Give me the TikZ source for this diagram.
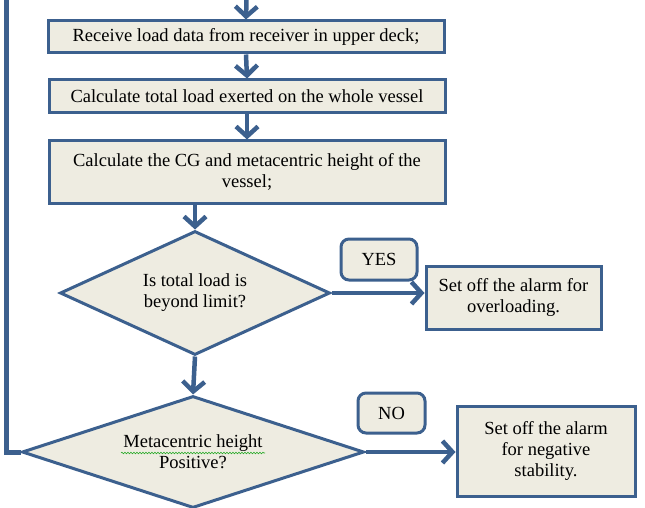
\documentclass[tikz,border=0pt]{standalone}
\usepackage{fontspec}
\setmainfont{Liberation Serif}
\usepackage{xcolor}
\usetikzlibrary{arrows.meta,calc,shapes.geometric,decorations.pathmorphing}
\definecolor{flowblue}{RGB}{60,96,142}
\definecolor{flowfill}{RGB}{238,236,225}
\definecolor{spellgreen}{RGB}{40,170,40}
\begin{document}
\begin{tikzpicture}[x=1pt,y=-1pt,
    every node/.style={font=\fontsize{18.5}{21}\selectfont},
    procbox/.style={draw=flowblue,fill=flowfill,line width=3pt,inner sep=0pt,align=center},
    tagbox/.style={procbox,rounded corners=8pt},
    decbox/.style={diamond,draw=flowblue,fill=flowfill,line width=3pt,inner sep=0pt,align=center},
    flow/.style={draw=flowblue,line width=4.5pt,-{Straight Barb[length=10pt,width=22pt]}}]
  \path[use as bounding box,clip] (0,0) rectangle (645,508);
  % process boxes
  \node[procbox,minimum width=396pt,minimum height=32pt] (recv) at (246,37) {Receive load data from receiver in upper deck;};
  \node[procbox,minimum width=396pt,minimum height=33pt] (total) at (247,96.5) {Calculate total load exerted on the whole vessel};
  \node[procbox,minimum width=396pt,minimum height=62pt] (cg) at (247,172) {Calculate the CG and metacentric height of the\\vessel;};
  % decisions
  \node[decbox,shape aspect=2.2,minimum width=270pt,minimum height=124pt] (limit) at (195,293) {Is total load is\\beyond limit?};
  \node[decbox,shape aspect=3,minimum width=342pt,minimum height=112pt] (meta) at (193,452) {Metacentric height\\Positive?};
  \draw[spellgreen,line width=0.6pt,decorate,decoration={snake,amplitude=0.8pt,segment length=3pt}]
    ($(meta.center)+(-72,1)$) -- ($(meta.center)+(72,1)$);
  % outcomes
  \node[tagbox,minimum width=76pt,minimum height=41pt] (yes) at (379,259.5) {YES};
  \node[procbox,minimum width=175pt,minimum height=63pt] (over) at (513.5,297.5) {Set off the alarm for\\overloading.};
  \node[tagbox,minimum width=67pt,minimum height=40pt] (no) at (391.5,413) {NO};
  \node[procbox,minimum width=178pt,minimum height=90pt] (stab) at (546,451) {Set off the alarm\\for negative\\stability.};
  % connectors
  \coordinate (top) at (247,-20);
  \coordinate (loop) at (6,-20);
  \draw[flow] (top) -- (recv.north);
  \draw[flow] (recv.south) -- (total.north);
  \draw[flow] (total.south) -- (cg.north);
  \draw[flow] (cg.south -| limit.north) -- (limit.north);
  \draw[flow] (limit.south) -- (meta.north);
  \draw[flow] (limit.east) -- (limit.east -| over.west);
  \draw[flow] (meta.east) -- (meta.east -| stab.west);
  \draw[draw=flowblue,line width=5pt] (meta.west) -- (meta.west -| loop) -- (loop);
\end{tikzpicture}
\end{document}
